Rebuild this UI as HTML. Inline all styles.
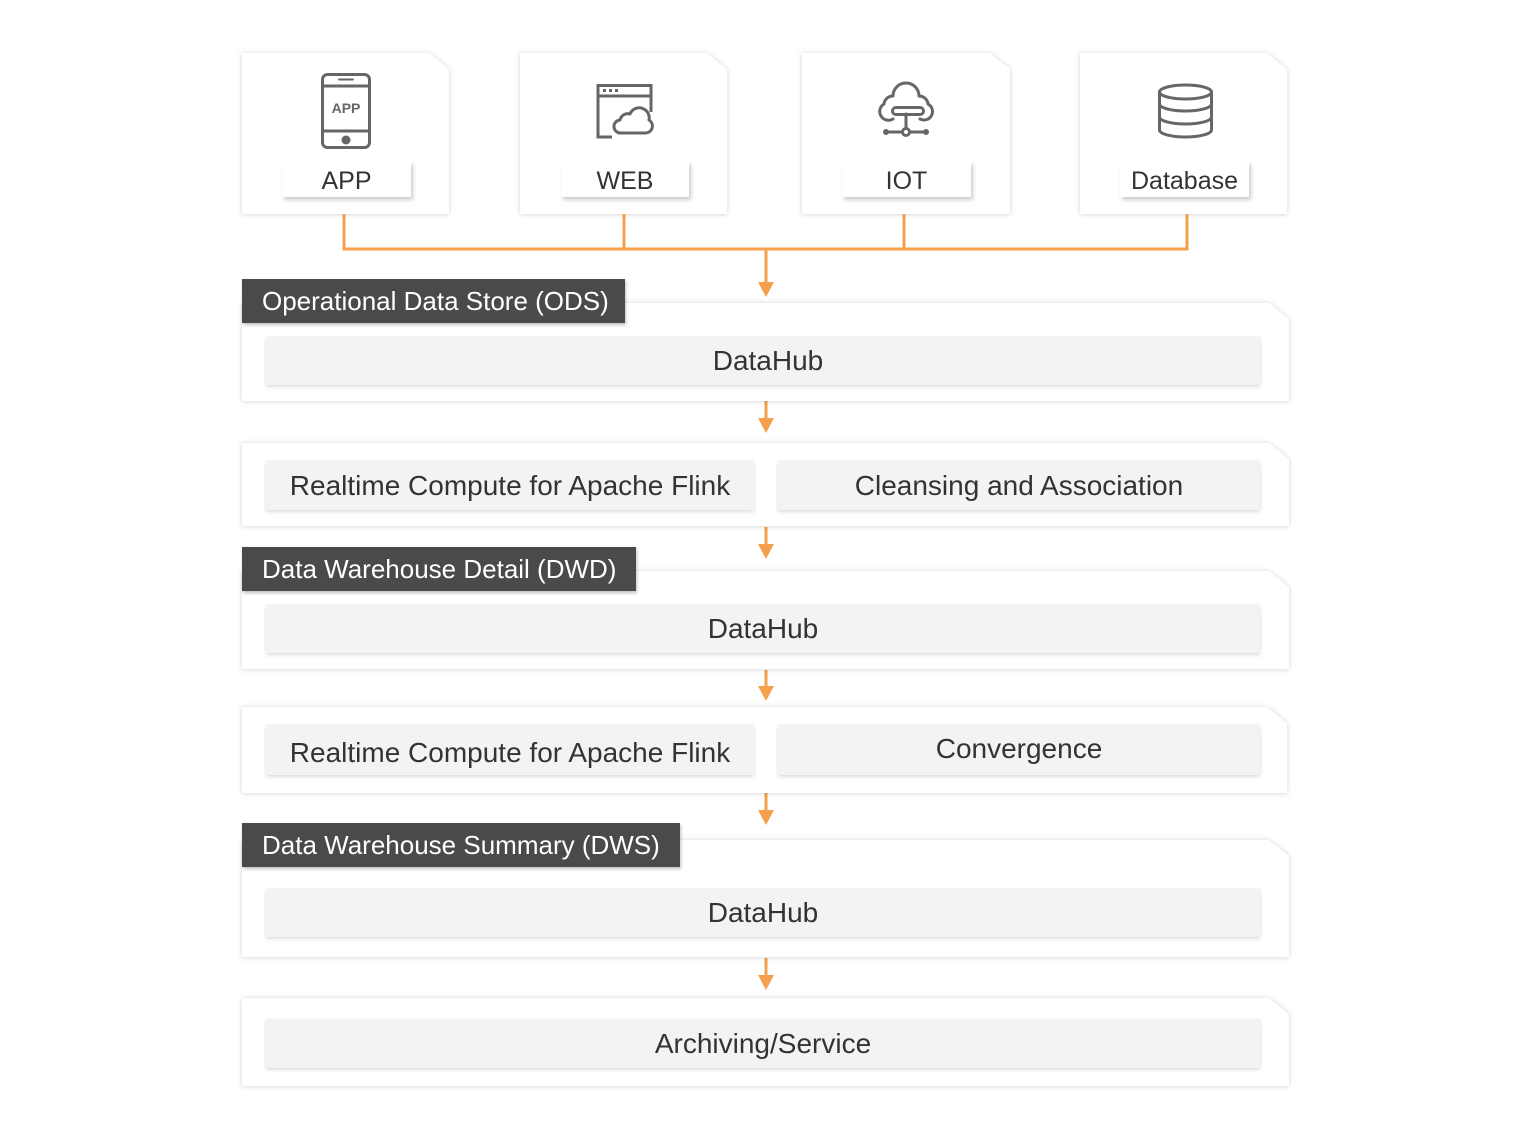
<!DOCTYPE html>
<html><head><meta charset="utf-8">
<style>
html,body{margin:0;padding:0;background:#fff;}
body{width:1530px;height:1141px;position:relative;overflow:hidden;font-family:"Liberation Sans",Arial,sans-serif;color:#333;}
.abs{position:absolute;}
.sh{position:absolute;filter:drop-shadow(0 0 3px rgba(0,0,0,0.13)) drop-shadow(0 1px 2px rgba(0,0,0,0.06));}
.cut{position:absolute;left:0;top:0;right:0;bottom:0;background:#fff;clip-path:polygon(0 0,calc(100% - 20px) 0,100% 16px,100% 100%,0 100%);}
.inner{position:absolute;background:#f1f3f4;box-shadow:0 2px 4px rgba(0,0,0,0.13),0 0 2px rgba(0,0,0,0.06);display:flex;align-items:center;justify-content:center;font-size:28px;color:#333;white-space:nowrap;}
.lbl{position:absolute;background:#fff;box-shadow:2px 3px 4px rgba(0,0,0,0.2);display:flex;align-items:center;justify-content:center;font-size:25px;color:#333;padding-top:5px;box-sizing:border-box;}
.hdr{position:absolute;background:#4a4a4a;color:#fff;font-size:26px;display:flex;align-items:center;padding-left:20px;box-sizing:border-box;box-shadow:1px 2px 3px rgba(0,0,0,0.25);white-space:nowrap;}
</style></head><body>

<!-- top cards -->
<div class="sh" style="left:242px;top:53px;width:207px;height:161px;"><div class="cut"></div></div>
<div class="sh" style="left:520px;top:53px;width:207px;height:161px;"><div class="cut"></div></div>
<div class="sh" style="left:802px;top:53px;width:208px;height:161px;"><div class="cut"></div></div>
<div class="sh" style="left:1080px;top:53px;width:207px;height:161px;"><div class="cut"></div></div>

<div class="lbl" style="left:282px;top:161px;width:129px;height:36px;">APP</div>
<div class="lbl" style="left:561px;top:161px;width:128px;height:36px;">WEB</div>
<div class="lbl" style="left:842px;top:161px;width:129px;height:36px;">IOT</div>
<div class="lbl" style="left:1120px;top:161px;width:129px;height:36px;">Database</div>

<!-- icons & connectors -->
<svg class="abs" style="left:0;top:0" width="1530" height="1141" viewBox="0 0 1530 1141">
  <g fill="none" stroke="#666" stroke-width="3" stroke-linecap="round" stroke-linejoin="round">
    <!-- phone -->
    <rect x="322.5" y="74.5" width="47" height="73" rx="5"/>
    <line x1="323" y1="86" x2="369" y2="86"/>
    <line x1="339" y1="79.5" x2="353" y2="79.5" stroke-width="2"/>
    <line x1="323" y1="131" x2="369" y2="131"/>
    <!-- browser -->
    <polyline points="612,137 598,137 598,85.5 651,85.5 651,112" stroke-linecap="butt" stroke-linejoin="miter"/>
    <line x1="598" y1="96" x2="651" y2="96" stroke-linecap="butt"/>
    <path d="M621,133 A6.5,6.5 0 0 1 620,120 A8,8 0 0 1 630,114 A10,10 0 0 1 649,120 A7,7 0 0 1 645,133 Z"/>
    <!-- iot -->
    <path d="M893,119 A8.5,8.5 0 0 1 884,104 A9,9 0 0 1 893,96 A13,13 0 0 1 919,96 A9,9 0 0 1 928,104 A8.5,8.5 0 0 1 920,119"/>
    <rect x="892.5" y="107.5" width="31" height="7" rx="3.5"/>
    <line x1="906" y1="114" x2="906" y2="128"/>
    <line x1="887" y1="132" x2="902" y2="132"/>
    <line x1="910" y1="132" x2="925" y2="132"/>
    <circle cx="906" cy="132" r="3.5"/>
    <!-- database -->
    <ellipse cx="1185.5" cy="92" rx="26" ry="7"/>
    <path d="M1159.5,92 V130 A26,7 0 0 0 1211.5,130 V92"/>
    <path d="M1159.5,104 A26,7 0 0 0 1211.5,104"/>
    <path d="M1159.5,117 A26,7 0 0 0 1211.5,117"/>
  </g>
  <g fill="#666">
    <circle cx="346" cy="140" r="4.5"/>
    <rect x="603" y="89" width="3" height="3"/>
    <rect x="609" y="89" width="3" height="3"/>
    <rect x="615" y="89" width="3" height="3"/>
    <circle cx="886" cy="132" r="3"/>
    <circle cx="926" cy="132" r="3"/>
  </g>
  <text x="346" y="113" text-anchor="middle" font-family="Liberation Sans, Arial, sans-serif" font-weight="bold" font-size="14" fill="#666">APP</text>

  <g fill="none" stroke="#f5a04c" stroke-width="3">
    <polyline points="344,214 344,249 1187,249 1187,214"/>
    <line x1="624" y1="214" x2="624" y2="249"/>
    <line x1="904" y1="214" x2="904" y2="249"/>
    <line x1="766" y1="249" x2="766" y2="284"/>
    <line x1="766" y1="401" x2="766" y2="420"/>
    <line x1="766" y1="527" x2="766" y2="546"/>
    <line x1="766" y1="670" x2="766" y2="688"/>
    <line x1="766" y1="793" x2="766" y2="812"/>
    <line x1="766" y1="958" x2="766" y2="977"/>
  </g>
  <g fill="#f5a04c">
    <polygon points="758,282 774,282 766,297"/>
    <polygon points="758,418 774,418 766,433"/>
    <polygon points="758,544 774,544 766,559"/>
    <polygon points="758,686 774,686 766,701"/>
    <polygon points="758,810 774,810 766,825"/>
    <polygon points="758,975 774,975 766,990"/>
  </g>
</svg>

<!-- ODS -->
<div class="sh" style="left:242px;top:303px;width:1047px;height:98px;"><div class="cut"></div></div>
<div class="hdr" style="left:242px;top:279px;width:383px;height:44px;">Operational Data Store (ODS)</div>
<div class="inner" style="left:266px;top:337px;width:994px;height:48px;padding-left:10px;box-sizing:border-box;">DataHub</div>

<!-- compute 1 -->
<div class="sh" style="left:242px;top:443px;width:1047px;height:83px;"><div class="cut"></div></div>
<div class="inner" style="left:266px;top:461px;width:488px;height:49px;">Realtime Compute for Apache Flink</div>
<div class="inner" style="left:778px;top:461px;width:482px;height:49px;">Cleansing and Association</div>

<!-- DWD -->
<div class="sh" style="left:242px;top:571px;width:1047px;height:98px;"><div class="cut"></div></div>
<div class="hdr" style="left:242px;top:547px;width:394px;height:44px;">Data Warehouse Detail (DWD)</div>
<div class="inner" style="left:266px;top:605px;width:994px;height:48px;">DataHub</div>

<!-- compute 2 -->
<div class="sh" style="left:242px;top:707px;width:1045px;height:86px;"><div class="cut"></div></div>
<div class="inner" style="left:266px;top:725px;width:488px;height:50px;padding-top:6px;box-sizing:border-box;">Realtime Compute for Apache Flink</div>
<div class="inner" style="left:778px;top:725px;width:482px;height:50px;padding-bottom:2px;box-sizing:border-box;">Convergence</div>

<!-- DWS -->
<div class="sh" style="left:242px;top:840px;width:1047px;height:117px;"><div class="cut"></div></div>
<div class="hdr" style="left:242px;top:823px;width:438px;height:44px;">Data Warehouse Summary (DWS)</div>
<div class="inner" style="left:266px;top:889px;width:994px;height:48px;">DataHub</div>

<!-- Archiving -->
<div class="sh" style="left:242px;top:998px;width:1047px;height:88px;"><div class="cut"></div></div>
<div class="inner" style="left:266px;top:1019px;width:994px;height:49px;">Archiving/Service</div>

</body></html>
